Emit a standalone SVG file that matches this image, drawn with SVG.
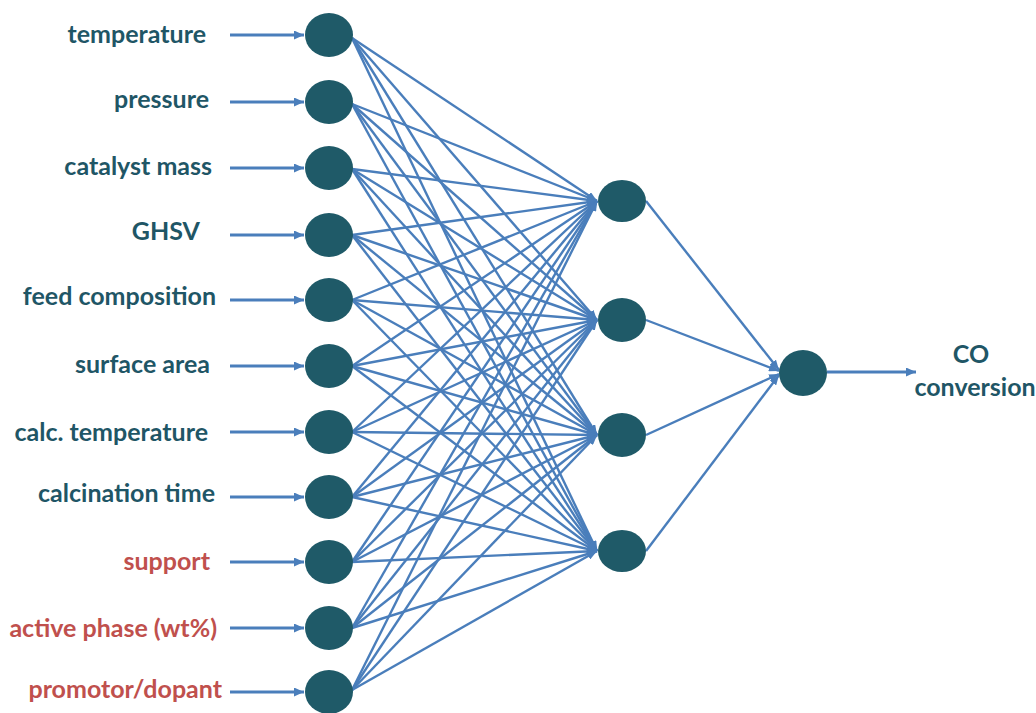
<svg xmlns="http://www.w3.org/2000/svg" width="1036" height="713" viewBox="0 0 1036 713">
<style>
.lbl{font-family:Lato,"Open Sans","Liberation Sans",sans-serif;font-weight:bold;font-size:25px;text-anchor:end}
.teal{fill:#1f5666}
.red{fill:#c0504d}
.node{fill:#1f5a68}
.c{stroke:#4a7ebb;stroke-width:2.4;fill:none;marker-end:url(#ah)}
.in{stroke:#4a7ebb;stroke-width:2.8;fill:none;marker-end:url(#ah2)}
</style>
<defs>
<marker id="ah" markerUnits="userSpaceOnUse" markerWidth="10" markerHeight="8" refX="10" refY="4" orient="auto"><path d="M0,0 L10,4 L0,8 z" fill="#4a7ebb"/></marker>
<marker id="ah2" markerUnits="userSpaceOnUse" markerWidth="10" markerHeight="9" refX="10" refY="4.5" orient="auto"><path d="M0,0 L10,4.5 L0,9 z" fill="#4a7ebb"/></marker>
</defs>
<rect width="1036" height="713" fill="#fff"/>
<g id="connectors">
<line class="in" x1="230" y1="35" x2="304" y2="35"/>
<line class="in" x1="230" y1="102" x2="304" y2="102"/>
<line class="in" x1="230" y1="168" x2="304" y2="168"/>
<line class="in" x1="230" y1="235" x2="304" y2="235"/>
<line class="in" x1="230" y1="300" x2="304" y2="300"/>
<line class="in" x1="230" y1="366" x2="304" y2="366"/>
<line class="in" x1="230" y1="432" x2="304" y2="432"/>
<line class="in" x1="230" y1="497" x2="304" y2="497"/>
<line class="in" x1="230" y1="562" x2="304" y2="562"/>
<line class="in" x1="230" y1="628" x2="304" y2="628"/>
<line class="in" x1="230" y1="692" x2="304" y2="692"/>
<line class="c" x1="352" y1="38" x2="597" y2="201"/><line class="c" x1="352" y1="38" x2="597" y2="320"/><line class="c" x1="352" y1="38" x2="597" y2="435"/><line class="c" x1="352" y1="38" x2="597" y2="551"/>
<line class="c" x1="352" y1="104" x2="597" y2="201"/><line class="c" x1="352" y1="104" x2="597" y2="320"/><line class="c" x1="352" y1="104" x2="597" y2="435"/><line class="c" x1="352" y1="104" x2="597" y2="551"/>
<line class="c" x1="352" y1="169" x2="597" y2="201"/><line class="c" x1="352" y1="169" x2="597" y2="320"/><line class="c" x1="352" y1="169" x2="597" y2="435"/><line class="c" x1="352" y1="169" x2="597" y2="551"/>
<line class="c" x1="352" y1="235" x2="597" y2="201"/><line class="c" x1="352" y1="235" x2="597" y2="320"/><line class="c" x1="352" y1="235" x2="597" y2="435"/><line class="c" x1="352" y1="235" x2="597" y2="551"/>
<line class="c" x1="352" y1="300" x2="597" y2="201"/><line class="c" x1="352" y1="300" x2="597" y2="320"/><line class="c" x1="352" y1="300" x2="597" y2="435"/><line class="c" x1="352" y1="300" x2="597" y2="551"/>
<line class="c" x1="352" y1="366" x2="597" y2="201"/><line class="c" x1="352" y1="366" x2="597" y2="320"/><line class="c" x1="352" y1="366" x2="597" y2="435"/><line class="c" x1="352" y1="366" x2="597" y2="551"/>
<line class="c" x1="352" y1="432" x2="597" y2="201"/><line class="c" x1="352" y1="432" x2="597" y2="320"/><line class="c" x1="352" y1="432" x2="597" y2="435"/><line class="c" x1="352" y1="432" x2="597" y2="551"/>
<line class="c" x1="352" y1="497" x2="597" y2="201"/><line class="c" x1="352" y1="497" x2="597" y2="320"/><line class="c" x1="352" y1="497" x2="597" y2="435"/><line class="c" x1="352" y1="497" x2="597" y2="551"/>
<line class="c" x1="352" y1="562" x2="597" y2="201"/><line class="c" x1="352" y1="562" x2="597" y2="320"/><line class="c" x1="352" y1="562" x2="597" y2="435"/><line class="c" x1="352" y1="562" x2="597" y2="551"/>
<line class="c" x1="352" y1="628" x2="597" y2="201"/><line class="c" x1="352" y1="628" x2="597" y2="320"/><line class="c" x1="352" y1="628" x2="597" y2="435"/><line class="c" x1="352" y1="628" x2="597" y2="551"/>
<line class="c" x1="352" y1="690" x2="597" y2="201"/><line class="c" x1="352" y1="690" x2="597" y2="320"/><line class="c" x1="352" y1="690" x2="597" y2="435"/><line class="c" x1="352" y1="690" x2="597" y2="551"/>
<line class="c" x1="646" y1="201" x2="779" y2="370"/>
<line class="c" x1="646" y1="320" x2="779" y2="371"/>
<line class="c" x1="646" y1="435" x2="779" y2="374"/>
<line class="c" x1="646" y1="551" x2="779" y2="375"/>
<line class="in" x1="827" y1="372" x2="916" y2="372"/>
</g>
<g id="in1"><ellipse class="node" cx="329" cy="35" rx="24" ry="22"/><text class="lbl teal" x="206" y="43">temperature</text></g>
<g id="in2"><ellipse class="node" cx="329" cy="102" rx="24" ry="22"/><text class="lbl teal" x="209" y="108">pressure</text></g>
<g id="in3"><ellipse class="node" cx="329" cy="168" rx="24" ry="22"/><text class="lbl teal" x="212" y="175">catalyst mass</text></g>
<g id="in4"><ellipse class="node" cx="329" cy="235" rx="24" ry="22"/><text class="lbl teal" x="200" y="240">GHSV</text></g>
<g id="in5"><ellipse class="node" cx="329" cy="300" rx="24" ry="22"/><text class="lbl teal" x="216" y="305">feed composition</text></g>
<g id="in6"><ellipse class="node" cx="329" cy="366" rx="24" ry="22"/><text class="lbl teal" x="210" y="373">surface area</text></g>
<g id="in7"><ellipse class="node" cx="329" cy="432" rx="24" ry="22"/><text class="lbl teal" x="208" y="441">calc. temperature</text></g>
<g id="in8"><ellipse class="node" cx="329" cy="497" rx="24" ry="22"/><text class="lbl teal" x="215" y="502">calcination time</text></g>
<g id="in9"><ellipse class="node" cx="329" cy="562" rx="24" ry="22"/><text class="lbl red" x="210" y="570">support</text></g>
<g id="in10"><ellipse class="node" cx="329" cy="628" rx="24" ry="22"/><text class="lbl red" x="217" y="637">active phase (wt%)</text></g>
<g id="in11"><ellipse class="node" cx="329" cy="692" rx="24" ry="22"/><text class="lbl red" x="222" y="698">promotor/dopant</text></g>
<g id="h1"><ellipse class="node" cx="622" cy="201" rx="24" ry="21"/></g>
<g id="h2"><ellipse class="node" cx="622" cy="320" rx="24" ry="22"/></g>
<g id="h3"><ellipse class="node" cx="622" cy="435" rx="24" ry="22"/></g>
<g id="h4"><ellipse class="node" cx="622" cy="551" rx="24" ry="21"/></g>
<g id="out"><ellipse class="node" cx="803" cy="373" rx="24" ry="23"/>
<text class="lbl teal" style="text-anchor:middle" x="971" y="363">CO</text>
<text class="lbl teal" style="text-anchor:middle" x="975" y="396">conversion</text></g>
</svg>
